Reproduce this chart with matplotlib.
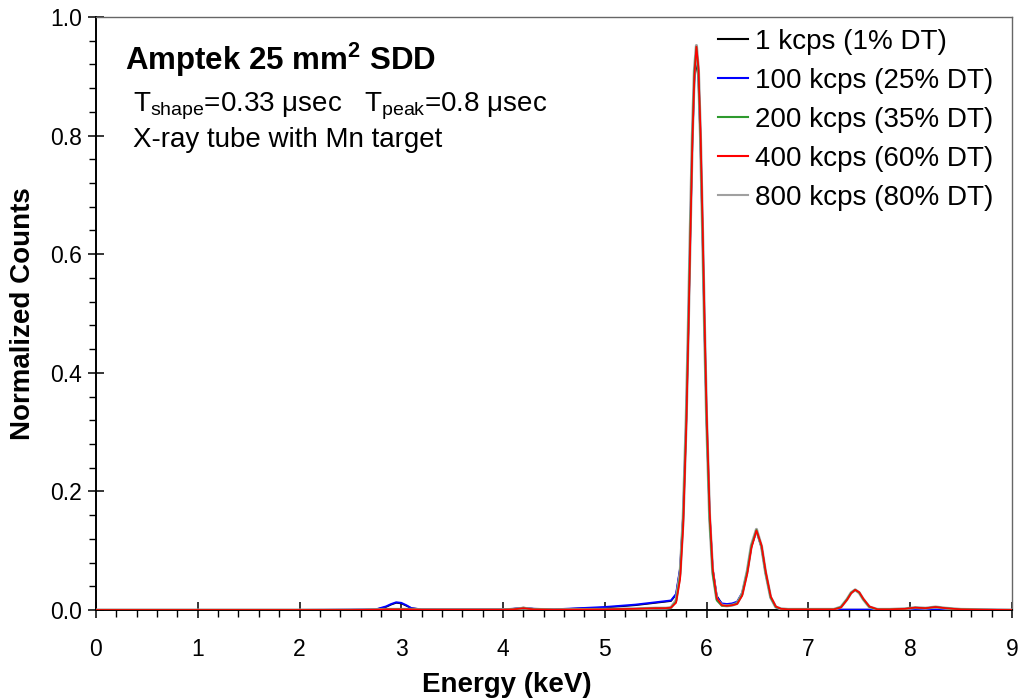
import matplotlib.pyplot as plt
from matplotlib.ticker import MultipleLocator

plt.rcParams['font.family'] = 'Liberation Sans'
plt.rcParams['mathtext.fontset'] = 'custom'
plt.rcParams['mathtext.rm'] = 'Liberation Sans'
plt.rcParams['mathtext.bf'] = 'Liberation Sans:bold'

# energy grid (keV) shared by all spectra
energy = [0.0, 0.5, 1.0, 1.5, 2.0, 2.5, 2.75, 2.85, 2.9, 2.95,
          3.0, 3.05, 3.1, 3.2, 3.5, 4.0, 4.1, 4.2, 4.3, 4.5,
          5.0, 5.3, 5.5, 5.6, 5.65, 5.7, 5.74, 5.77, 5.8, 5.82,
          5.84, 5.86, 5.88, 5.9, 5.92, 5.94, 5.96, 5.98, 6.0, 6.03,
          6.06, 6.1, 6.15, 6.2, 6.25, 6.3, 6.35, 6.4, 6.44, 6.49,
          6.54, 6.58, 6.63, 6.68, 6.73, 6.8, 7.0, 7.2, 7.25, 7.32,
          7.38, 7.42, 7.46, 7.5, 7.54, 7.6, 7.68, 7.8, 7.95, 8.05,
          8.15, 8.25, 8.35, 8.5, 8.7, 9.0]

kcps1 = [0, 0, 0, 0, 0, 0.0005, 0.001, 0.005, 0.009, 0.012,
         0.011, 0.007, 0.003, 0.001, 0.0008, 0.001, 0.002, 0.004, 0.002, 0.001,
         0.004, 0.008, 0.012, 0.014, 0.015, 0.026, 0.07, 0.16, 0.32, 0.47,
         0.635, 0.785, 0.89, 0.93, 0.89, 0.785, 0.635, 0.47, 0.322, 0.16,
         0.07, 0.024, 0.01, 0.009, 0.01, 0.013, 0.028, 0.065, 0.107, 0.133,
         0.105, 0.062, 0.021, 0.005, 0.001, 0.0005, 0.0005, 0.0005, 0.0005, 0.0005,
         0.0005, 0.0005, 0.0005, 0.0005, 0.0005, 0.0005, 0.0005, 0.0005, 0.0005, 0.001,
         0.001, 0.001, 0.0005, 0.0005, 0.0005, 0]

kcps100 = [0, 0, 0, 0, 0, 0.0005, 0.001, 0.006, 0.01, 0.013,
           0.012, 0.008, 0.003, 0.001, 0.001, 0.001, 0.002, 0.003, 0.002, 0.001,
           0.005, 0.009, 0.013, 0.015, 0.016, 0.027, 0.071, 0.16, 0.322, 0.472,
           0.64, 0.795, 0.905, 0.945, 0.905, 0.795, 0.64, 0.472, 0.322, 0.158,
           0.068, 0.022, 0.011, 0.01, 0.011, 0.014, 0.029, 0.066, 0.108, 0.134,
           0.106, 0.062, 0.021, 0.005, 0.001, 0.0005, 0.0005, 0.0005, 0.0005, 0.0005,
           0.0005, 0.0005, 0.0005, 0.0005, 0.0005, 0.0005, 0.0005, 0.0005, 0.0005, 0.0005,
           0.0005, 0.0005, 0.0005, 0.0005, 0.0005, 0]

kcps200 = [0, 0, 0, 0, 0, 0, 0.0005, 0.001, 0.001, 0.001,
           0.001, 0.001, 0.001, 0.0005, 0.0005, 0.0005, 0.001, 0.003, 0.001, 0.0005,
           0.001, 0.002, 0.003, 0.003, 0.004, 0.014, 0.058, 0.15, 0.318, 0.47,
           0.64, 0.798, 0.908, 0.95, 0.908, 0.798, 0.64, 0.47, 0.318, 0.15,
           0.06, 0.016, 0.007, 0.007, 0.008, 0.011, 0.026, 0.065, 0.108, 0.135,
           0.107, 0.063, 0.021, 0.005, 0.002, 0.001, 0.001, 0.001, 0.001, 0.005,
           0.018, 0.029, 0.034, 0.029, 0.018, 0.005, 0.001, 0.001, 0.002, 0.004,
           0.003, 0.005, 0.003, 0.001, 0.0005, 0]

kcps400 = [0, 0, 0, 0, 0, 0, 0.0005, 0.001, 0.001, 0.001,
           0.001, 0.001, 0.001, 0.0005, 0.0005, 0.0005, 0.001, 0.003, 0.001, 0.0005,
           0.001, 0.002, 0.003, 0.003, 0.004, 0.012, 0.052, 0.14, 0.305, 0.455,
           0.625, 0.785, 0.9, 0.95, 0.915, 0.81, 0.66, 0.49, 0.338, 0.168,
           0.07, 0.02, 0.008, 0.007, 0.008, 0.01, 0.024, 0.061, 0.104, 0.134,
           0.109, 0.066, 0.023, 0.006, 0.002, 0.001, 0.001, 0.001, 0.001, 0.004,
           0.017, 0.028, 0.034, 0.03, 0.019, 0.006, 0.001, 0.001, 0.002, 0.004,
           0.003, 0.005, 0.003, 0.001, 0.0005, 0]

kcps800 = [0, 0, 0, 0, 0, 0, 0.0005, 0.001, 0.001, 0.001,
           0.001, 0.001, 0.001, 0.0005, 0.0005, 0.0005, 0.001, 0.003, 0.001, 0.0005,
           0.001, 0.002, 0.003, 0.003, 0.004, 0.016, 0.062, 0.155, 0.323, 0.475,
           0.644, 0.8, 0.91, 0.952, 0.91, 0.798, 0.643, 0.474, 0.322, 0.155,
           0.064, 0.018, 0.008, 0.007, 0.008, 0.011, 0.027, 0.066, 0.109, 0.136,
           0.107, 0.063, 0.021, 0.005, 0.002, 0.001, 0.001, 0.001, 0.001, 0.005,
           0.018, 0.029, 0.034, 0.029, 0.018, 0.005, 0.001, 0.001, 0.002, 0.004,
           0.003, 0.005, 0.003, 0.001, 0.0005, 0]

labels = ['1 kcps (1% DT)', '100 kcps (25% DT)', '200 kcps (35% DT)',
          '400 kcps (60% DT)', '800 kcps (80% DT)']

fig = plt.figure(figsize=(10.18, 7.0), dpi=100)
ax = fig.add_axes([0.0943, 0.1286, 0.8997, 0.8471])

l1, = ax.plot(energy, kcps1, color='black', lw=1.2, zorder=2)
l2, = ax.plot(energy, kcps100, color='#0000ff', lw=1.4, zorder=3)
l5, = ax.plot(energy, kcps800, color='#a0a0a0', lw=2.2, zorder=4)
l3, = ax.plot(energy, kcps200, color='#2e9a2e', lw=1.2, zorder=5)
l4, = ax.plot(energy, kcps400, color='#ff0000', lw=1.2, zorder=6)

leg = ax.legend([l1, l2, l3, l4, l5], labels, loc='upper left',
                bbox_to_anchor=(0.679, 0.98), frameon=False, fontsize=20,
                handlelength=1.08, handletextpad=0.25, labelspacing=0.47,
                borderaxespad=0.0, borderpad=0.0)
for h in leg.legend_handles:
    h.set_linewidth(1.5)

ax.set_xlim(0, 9)
ax.set_ylim(0, 1.0)
ax.xaxis.set_major_locator(MultipleLocator(1))
ax.xaxis.set_minor_locator(MultipleLocator(0.2))
ax.yaxis.set_major_locator(MultipleLocator(0.2))
ax.yaxis.set_minor_locator(MultipleLocator(0.04))
ax.yaxis.set_major_formatter(plt.FormatStrFormatter('%.1f'))
ax.tick_params(which='major', direction='inout', length=12, width=1.1,
               labelsize=16.5, pad=4)
ax.tick_params(axis='x', which='major', pad=14)
ax.tick_params(which='minor', direction='out', length=5, width=1)
ax.tick_params(top=False, right=False, which='both')

for s in ['left', 'bottom']:
    ax.spines[s].set_linewidth(1.4)
for s in ['top', 'right']:
    ax.spines[s].set_color('#666666')
    ax.spines[s].set_linewidth(1.0)

ax.set_xlabel('Energy (keV)', fontsize=20, fontweight='bold', labelpad=8)
ax.xaxis.label.set_x(0.449)
ax.set_ylabel('Normalized Counts', fontsize=20, fontweight='bold', labelpad=10)

ax.text(0.032, 0.927, r'Amptek 25 mm$^{\mathbf{2}}$ SDD', transform=ax.transAxes,
        fontsize=22.5, fontweight='bold', va='center')
ax.text(0.04, 0.849, r'T$_{\mathregular{shape}}$=0.33 μsec   T$_{\mathregular{peak}}$=0.8 μsec',
        transform=ax.transAxes, fontsize=20, va='center')
ax.text(0.04, 0.793, 'X-ray tube with Mn target', transform=ax.transAxes,
        fontsize=20, va='center')

fig.savefig('out.png', dpi=100)
